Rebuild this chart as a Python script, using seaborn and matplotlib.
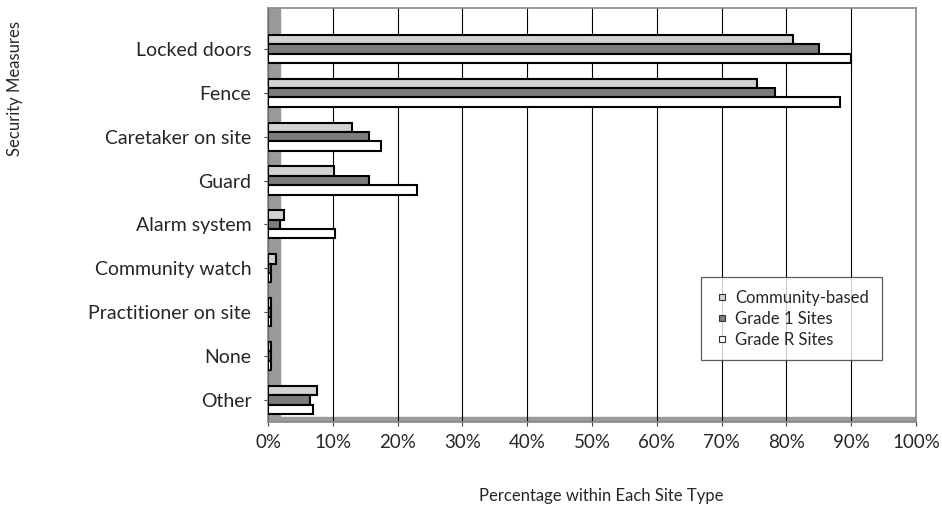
import pandas as pd
import numpy as np
import matplotlib.pyplot as plt
import seaborn as sns
from matplotlib.lines import Line2D

# Data
measures = ['Locked doors', 'Fence', 'Caretaker on site', 'Guard', 'Alarm system',
            'Community watch', 'Practitioner on site', 'None', 'Other']
site_types = ['Community-based', 'Grade 1 Sites', 'Grade R Sites']
community = [81, 75.5, 13, 10.2, 2.5, 1.3, 0.4, 0.4, 7.5]
grade1 = [85, 78.3, 15.6, 15.6, 1.8, 0.4, 0.4, 0.4, 6.5]
grade_r = [90, 88.3, 17.5, 23, 10.3, 0.4, 0.4, 0.4, 7]
xticks = [0, 10, 20, 30, 40, 50, 60, 70, 80, 90, 100]

# Long format for seaborn
df = pd.DataFrame({
    'measure': measures * 3,
    'site': np.repeat(site_types, len(measures)),
    'pct': community + grade1 + grade_r,
})

sns.set_style('white')
plt.rcParams['font.family'] = ['Lato', 'DejaVu Sans']

colors = ['#d2d2d2', '#7c7c7c', '#ffffff']

fig = plt.figure(figsize=(9.42, 5.08), dpi=100)
ax = fig.add_axes([268 / 942, 1 - 422 / 508, (916 - 268) / 942, (422 - 8) / 508])

# Gray left wall and floor
ax.axvspan(0, 1.8, color='#9a9a9a', zorder=0)

sns.barplot(data=df, y='measure', x='pct', hue='site', order=measures,
            hue_order=site_types, palette=colors, orient='h', width=0.64,
            edgecolor='black', linewidth=1.5, saturation=1, ax=ax, zorder=3,
            legend=False)

ax.set_xlim(0, 100)
ax.set_ylim(8.5, -0.93)
ax.axhspan(8.5, 8.38, color='#9a9a9a', zorder=1)
ax.set_xticks(xticks)
ax.set_xticklabels([f'{t}%' for t in xticks], fontsize=13.5)
ax.tick_params(axis='y', labelsize=14, length=3, pad=9, color='#444444', left=True)
ax.tick_params(axis='x', length=3, pad=6, color='#444444', bottom=True)
for t in xticks:
    ax.axvline(t, color='black', linewidth=0.8, zorder=2)
ax.set_xlabel('')
ax.set_ylabel('')
for side in ax.spines.values():
    side.set_color('#888888')
    side.set_linewidth(1.2)

handles = [Line2D([], [], marker='s', linestyle='none', markersize=4.5,
                  markerfacecolor=c, markeredgecolor='#333333', markeredgewidth=0.8)
           for c in colors]
leg = ax.legend(handles, site_types, loc='upper right', bbox_to_anchor=(0.947, 0.35),
                fontsize=12, frameon=True, fancybox=False, handlelength=1.0,
                handletextpad=0.3, borderpad=0.75, labelspacing=0.3,
                borderaxespad=0)
leg.get_frame().set_edgecolor('#333333')
leg.get_frame().set_linewidth(0.9)
leg.set_zorder(5)

fig.text(15 / 942, 1 - 88 / 508, 'Security Measures', rotation=90, va='center',
         ha='center', fontsize=12)
fig.text(601 / 942, 1 - 496 / 508, 'Percentage within Each Site Type', va='center',
         ha='center', fontsize=12)

plt.savefig('out.png', dpi=100)
